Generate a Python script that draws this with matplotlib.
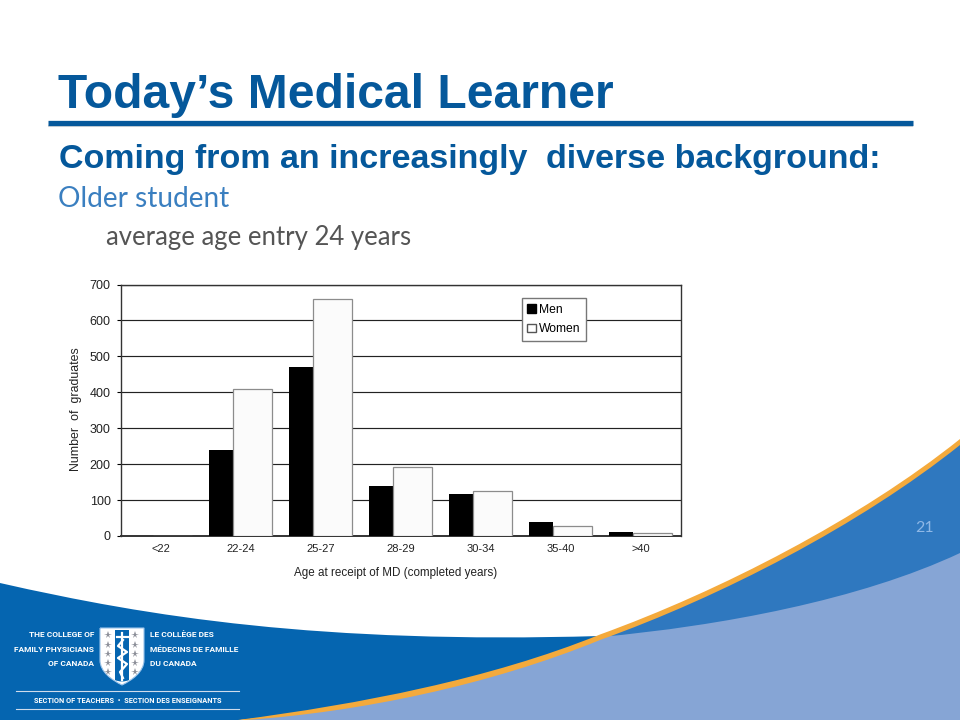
import numpy as np
import matplotlib
matplotlib.use('Agg')
import matplotlib.pyplot as plt
from matplotlib.patches import PathPatch, Rectangle
from matplotlib.path import Path

ages = ['<22', '22-24', '25-27', '28-29', '30-34', '35-40', '>40']
men = [0, 238, 470, 139, 118, 40, 12]
women = [0, 410, 660, 193, 126, 29, 8]
yticks = [0, 100, 200, 300, 400, 500, 600, 700]

BLUE = '#0565b0'
INK = '#05589b'
MID = '#2f78bf'
LIGHT = '#86a5d5'
ORANGE = '#f4aa3c'
SANS = 'Liberation Sans'
BODY = 'Lato'
LOGO = 'Roboto'

fig = plt.figure(figsize=(9.6, 7.2), dpi=100)

# whole slide in pixel coords, y pointing down
bg = fig.add_axes([0, 0, 1, 1])
bg.set_xlim(0, 960)
bg.set_ylim(720, 0)
bg.axis('off')


def shape(start, steps, color, z=1, ec='none', lw=0):
    # steps are either one point (straight) or three points (bezier)
    verts = [start]
    codes = [Path.MOVETO]
    for s in steps:
        verts += s
        codes += [Path.LINETO] if len(s) == 1 else [Path.CURVE4] * 3
    bg.add_patch(PathPatch(Path(verts, codes), fc=color, ec=ec, lw=lw, zorder=z))


# centre of the swoosh, used for all the blue areas
swoosh = [[(360, 708), (490, 682), (600, 637)],
          [(720, 594), (860, 522), (960, 442)]]

# dark band on the left
shape((0, 583), [[(150, 617), (320, 644), (600, 636)], [(600, 640)], [(490, 682), (360, 708), (240, 720)],
                 [(0, 720)]], BLUE, 1)
# light area under the swoosh
shape((240, 720), swoosh + [[(960, 720)]], LIGHT, 2)
# mid blue wedge between swoosh and light area
shape((600, 637), [swoosh[1], [(960, 553)], [(860, 600), (720, 626), (600, 637)]], MID, 3)
# orange swoosh, tapered at the left end
shape((238, 720), [[(360, 704), (490, 679), (600, 634.5)], [(720, 591), (860, 519), (960, 439)], [(960, 445)],
                   [(860, 525), (720, 597), (600, 640)], [(490, 685), (360, 712), (246, 720)]], ORANGE, 4)

# title and rule
bg.text(58, 108.5, 'Today’s Medical Learner', family=SANS, weight='bold',
        fontsize=34.6, color=INK, va='baseline')
bg.plot([48, 913], [126, 126], color='#999999', lw=1.5, alpha=0.35, solid_capstyle='butt')
bg.plot([48, 913], [123, 123], color=INK, lw=3.8, solid_capstyle='butt')
bg.text(59, 168, 'Coming from an increasingly', family=SANS, weight='bold',
        fontsize=24.5, color=INK, va='baseline')
bg.text(546, 168, 'diverse background:', family=SANS, weight='bold',
        fontsize=24.5, color=INK, va='baseline')
bg.text(58, 207, 'Older student', family=BODY, fontsize=20.2, color='#3a7fc0', va='baseline')
bg.text(106, 245, 'average age entry 24 years', family=BODY, fontsize=18.5,
        color='#555555', va='baseline')
bg.text(925, 532, '21', family=BODY, fontsize=11.5, color='#8fb8e6', ha='center', zorder=6)

# college logo
white = '#ffffff'
for y, left, right in [(637, 'THE COLLEGE OF', 'LE COLLÈGE DES'),
                       (652, 'FAMILY PHYSICIANS', 'MÉDECINS DE FAMILLE'),
                       (666, 'OF CANADA', 'DU CANADA')]:
    bg.text(94, y, left, family=LOGO, weight='bold', fontsize=6.0, color=white, ha='right', zorder=6)
    bg.text(150, y, right, family=LOGO, weight='bold', fontsize=6.0, color=white, ha='left', zorder=6)

shape((100, 628), [[(144, 628)], [(144, 660)], [(144, 672), (132, 680), (122, 685)],
                   [(112, 680), (100, 672), (100, 660)], [(100, 628)]], white, 6, ec='#9cc4ea', lw=0.8)
shape((115, 630), [[(129, 630)], [(129, 680)], [(125, 682), (119, 682), (115, 680)], [(115, 630)]], BLUE, 7)
bg.plot([108] * 5 + [135] * 5, [635, 645, 654, 663, 672] * 2, ls='none', marker='*', ms=5.5,
        color='#8c8f98', mew=0, zorder=7)
bg.plot([122, 122], [633, 680], color=white, lw=1.6, zorder=8)
bg.plot([123, 118, 127, 118, 127, 120, 123], [640, 646, 652, 658, 664, 672, 678], color=white, lw=1.6, zorder=8)
bg.plot([117, 128], [637, 637], color=white, lw=1.6, zorder=8)

bg.plot([16, 239], [691, 691], color='#cfdcec', lw=0.8, zorder=6)
bg.plot([16, 239], [709, 709], color='#cfdcec', lw=0.8, zorder=6)
bg.text(127.5, 703, 'SECTION OF TEACHERS  •  SECTION DES ENSEIGNANTS', family=LOGO,
        weight='bold', fontsize=5.3, color=white, ha='center', zorder=6)

# the scanned bar chart
ax = fig.add_axes([120.5 / 960, 1 - 536 / 720, 560 / 960, 251.5 / 720])
ax.patch.set_alpha(0)
x = np.arange(len(ages))
ax.bar(x - 0.244, men, width=0.288, color='black', zorder=3)
ax.bar(x + 0.144, women, width=0.488, color='#fbfbfb', edgecolor='#8c8c8c', lw=0.9, zorder=3)
ax.set_xlim(-0.5, 6.5)
ax.set_ylim(0, 700)
ax.set_yticks(yticks)
ax.set_xticks(x)
ax.set_xticklabels(ages, family=SANS, fontsize=8, color='#222222')
ax.tick_params(axis='x', length=0, pad=6)
ax.tick_params(axis='y', length=3, width=0.8, pad=4, labelsize=9, labelcolor='#222222')
for label in ax.get_yticklabels():
    label.set_family(SANS)
ax.grid(axis='y', color='#222222', lw=0.85, zorder=1)
for side in ax.spines.values():
    side.set_color('#333333')
    side.set_linewidth(1)
ax.spines['bottom'].set_linewidth(1.4)
ax.set_xlabel('Age at receipt of MD (completed years)', family=SANS, fontsize=8.4,
              color='#222222', x=0.491, labelpad=9)
ax.set_ylabel('Number  of  graduates', family=SANS, fontsize=8.9, color='#222222')
ax.yaxis.set_label_coords(-0.069, 0.503)

handles = [Rectangle((0, 0), 1, 1, fc='black', ec='black'),
           Rectangle((0, 0), 1, 1, fc='white', ec='#555555')]
leg = ax.legend(handles, ['Men', 'Women'], loc='upper left', bbox_to_anchor=(0.717, 0.946),
                prop={'family': SANS, 'size': 8.7}, fancybox=False, framealpha=1,
                edgecolor='#777777', handlelength=0.7, handleheight=0.7, handletextpad=0.25,
                labelspacing=0.65, borderpad=0.45, borderaxespad=0)
leg.set_zorder(5)

fig.savefig('out.png', dpi=100)
